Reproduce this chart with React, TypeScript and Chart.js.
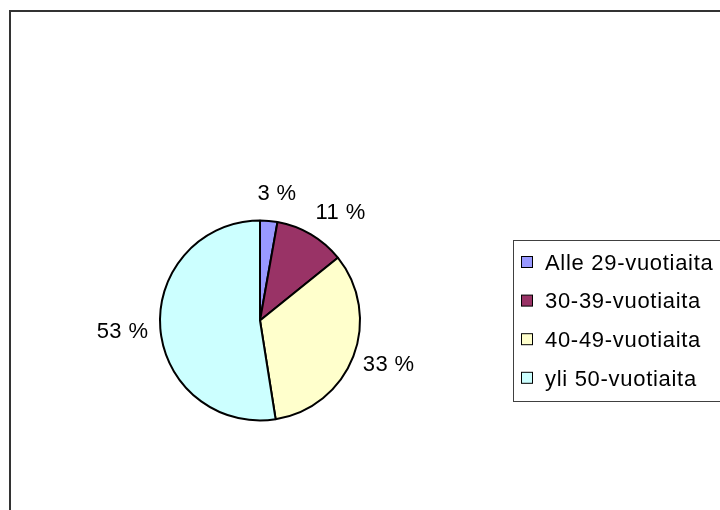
import { useEffect, useRef } from "react";
import { Chart, registerables } from "chart.js";

Chart.register(...registerables);

const categories = ["Alle 29-vuotiaita", "30-39-vuotiaita", "40-49-vuotiaita", "yli 50-vuotiaita"];
const shares = [2.8, 11.4, 33.3, 52.5];
const sliceColors = ["#9999FF", "#993366", "#FFFFCC", "#CCFFFF"];

const FONT_SIZE = 22;
const FONT = `${FONT_SIZE}px "Liberation Sans", Arial, sans-serif`;
const LETTER_SPACING = "0.7px";
const CAP = FONT_SIZE * 0.716;

const framePlugin = {
  id: "excelFrame",
  beforeDraw(chart: any) {
    const ctx = chart.ctx as CanvasRenderingContext2D;
    ctx.save();
    ctx.fillStyle = "#ffffff";
    ctx.fillRect(0, 0, chart.width, chart.height);
    ctx.strokeStyle = "#333333";
    ctx.lineWidth = 2;
    ctx.beginPath();
    ctx.moveTo(10, chart.height + 5);
    ctx.lineTo(10, 11);
    ctx.lineTo(chart.width + 5, 11);
    ctx.stroke();
    ctx.restore();
  },
};

const pctLabelPlugin = {
  id: "pctLabels",
  afterDatasetsDraw(chart: any) {
    const ctx = chart.ctx as CanvasRenderingContext2D;
    const meta = chart.getDatasetMeta(0);
    const data = chart.data.datasets[0].data as number[];
    const total = data.reduce((a, b) => a + b, 0);
    ctx.save();
    ctx.font = FONT;
    (ctx as any).letterSpacing = "0.4px";
    ctx.fillStyle = "#000000";
    ctx.textAlign = "left";
    ctx.textBaseline = "alphabetic";
    meta.data.forEach((arc: any, i: number) => {
      const { x, y, startAngle, endAngle, outerRadius } = arc.getProps(
        ["x", "y", "startAngle", "endAngle", "outerRadius"],
        true
      );
      const mid = (startAngle + endAngle) / 2;
      const txt = Math.round((data[i] / total) * 100) + " %";
      const w = ctx.measureText(txt).width;
      const h = CAP;
      const c = Math.cos(mid);
      const s = Math.sin(mid);
      const d = outerRadius + 12 + 9 * Math.max(0, -s);
      const cx = x + c * d + (c * w) / 2 + 8 * Math.max(0, -s) * Math.max(0, c + 0.5);
      const cy = y + s * d + (s * h) / 2;
      ctx.fillText(txt, cx - w / 2, cy + h / 2);
    });
    ctx.restore();
  },
};

const legendPlugin = {
  id: "excelLegend",
  afterDraw(chart: any) {
    const ctx = chart.ctx as CanvasRenderingContext2D;
    const labels = chart.data.labels as string[];
    const colors = chart.data.datasets[0].backgroundColor as string[];
    ctx.save();
    ctx.strokeStyle = "#404040";
    ctx.lineWidth = 1;
    ctx.strokeRect(513.5, 240.5, 208, 161);
    ctx.font = FONT;
    (ctx as any).letterSpacing = LETTER_SPACING;
    ctx.textAlign = "left";
    ctx.textBaseline = "alphabetic";
    labels.forEach((lab, i) => {
      const cy = 262 + i * 38.6;
      const m = 11;
      ctx.fillStyle = colors[i];
      ctx.fillRect(521.5, cy - m / 2, m, m);
      ctx.strokeStyle = "#000000";
      ctx.strokeRect(521.5, cy - m / 2, m, m);
      ctx.fillStyle = "#000000";
      ctx.fillText(lab, 545, cy + CAP / 2);
    });
    ctx.restore();
  },
};

export default function App() {
  const canvasRef = useRef<HTMLCanvasElement | null>(null);

  useEffect(() => {
    const canvas = canvasRef.current;
    if (!canvas) return;
    const chart = new Chart(canvas, {
      type: "pie",
      data: {
        labels: categories,
        datasets: [
          {
            data: shares,
            backgroundColor: sliceColors,
            borderColor: "#000000",
            borderWidth: 2,
            hoverOffset: 0,
          },
        ],
      },
      options: {
        responsive: false,
        animation: false,
        devicePixelRatio: 1,
        radius: 100,
        layout: { padding: { left: 140, right: 340, top: 200, bottom: 69 } },
        plugins: {
          legend: { display: false },
          tooltip: { enabled: false },
          title: { display: false },
        },
        events: [],
      } as any,
      plugins: [framePlugin, pctLabelPlugin, legendPlugin],
    });
    return () => chart.destroy();
  }, []);

  return (
    <div style={{ position: "absolute", left: 0, top: 0, width: 720, height: 510 }}>
      <canvas ref={canvasRef} width={720} height={510} style={{ display: "block" }} />
    </div>
  );
}
